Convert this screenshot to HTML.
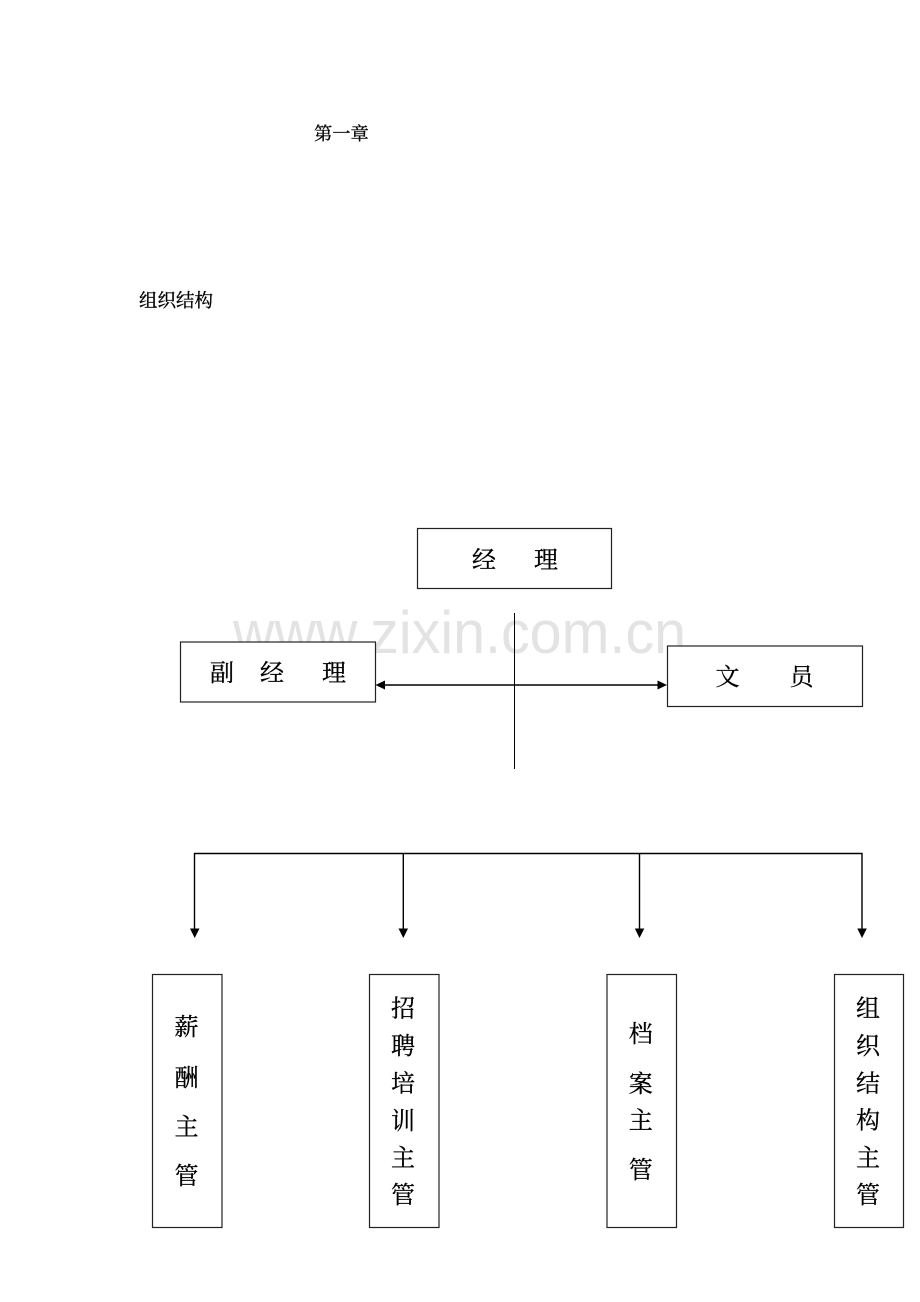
<!DOCTYPE html>
<html lang="zh">
<head>
<meta charset="utf-8">
<title>组织结构</title>
<style>
html,body{margin:0;padding:0;background:#fff;width:920px;height:1302px;overflow:hidden}
svg{display:block}
text{font-family:"Liberation Serif","Noto Serif CJK SC",serif;fill:#000;stroke:#000;stroke-width:.3px}
.c{font-size:24px;text-anchor:middle}
.w{font-family:"Liberation Sans",sans-serif;font-size:60px;fill:#e3e3e3;stroke:none}
.b{fill:#fff;stroke:#222;stroke-width:1.2}
.l{stroke:#000;stroke-width:1.4;fill:none}
</style>
</head>
<body>
<svg width="920" height="1302" viewBox="0 0 920 1302" xmlns="http://www.w3.org/2000/svg">
<text x="314" y="140" font-size="18.3">第一章</text>
<text x="139" y="307" font-size="18.5">组织结构</text>

<text class="w" x="233" y="653" textLength="453" lengthAdjust="spacingAndGlyphs">www.zixin.com.cn</text>

<rect class="b" x="417.5" y="528.5" width="194" height="60"/>
<rect class="b" x="180.5" y="642" width="195" height="60"/>
<rect class="b" x="667.5" y="646" width="195" height="60.5"/>

<text class="c" x="484" y="568">经</text>
<text class="c" x="546" y="568">理</text>
<text class="c" x="222" y="681">副</text>
<text class="c" x="272" y="681">经</text>
<text class="c" x="334" y="681">理</text>
<text class="c" x="727.500" y="685">文</text>
<text class="c" x="801.500" y="685">员</text>

<line x1="514.5" y1="613" x2="514.5" y2="769" stroke="#000" stroke-width="1"/>
<line class="l" x1="382" y1="685" x2="660" y2="685"/>
<polygon points="375.5,685 385,680.5 385,689.5" fill="#000"/>
<polygon points="667,685 657.5,680.5 657.5,689.5" fill="#000"/>

<line class="l" x1="194" y1="853.5" x2="862.5" y2="853.5"/>
<line class="l" x1="194.500" y1="853" x2="194.500" y2="930"/>
<line class="l" x1="403.300" y1="853" x2="403.300" y2="930"/>
<line class="l" x1="639.500" y1="853" x2="639.500" y2="930"/>
<line class="l" x1="862" y1="853" x2="862" y2="930"/>
<polygon points="190,928.500 199.500,928.500 194.700,938" fill="#000"/>
<polygon points="398.500,928.500 408,928.500 403.300,938" fill="#000"/>
<polygon points="634.800,928.500 644.300,928.500 639.500,938" fill="#000"/>
<polygon points="857.300,928.500 866.800,928.500 862,938" fill="#000"/>

<rect class="b" x="152.500" y="974.500" width="69.500" height="253"/>
<rect class="b" x="369.500" y="974.500" width="69.500" height="253"/>
<rect class="b" x="607" y="974.500" width="69.500" height="253"/>
<rect class="b" x="834.500" y="974.500" width="69" height="253"/>

<text class="c" x="186.500" y="1035">薪</text>
<text class="c" x="186.500" y="1086">酬</text>
<text class="c" x="186.500" y="1135">主</text>
<text class="c" x="186.500" y="1184">管</text>

<text class="c" x="403" y="1016.500">招</text>
<text class="c" x="403" y="1054">聘</text>
<text class="c" x="403" y="1091.500">培</text>
<text class="c" x="403" y="1129">训</text>
<text class="c" x="403" y="1166">主</text>
<text class="c" x="403" y="1203">管</text>

<text class="c" x="640.700" y="1042">档</text>
<text class="c" x="640.700" y="1092">案</text>
<text class="c" x="640.700" y="1128.500">主</text>
<text class="c" x="640.700" y="1178">管</text>

<text class="c" x="868" y="1016.500">组</text>
<text class="c" x="868" y="1054">织</text>
<text class="c" x="868" y="1091.500">结</text>
<text class="c" x="868" y="1128.500">构</text>
<text class="c" x="868" y="1166">主</text>
<text class="c" x="868" y="1203">管</text>
</svg>
</body>
</html>
